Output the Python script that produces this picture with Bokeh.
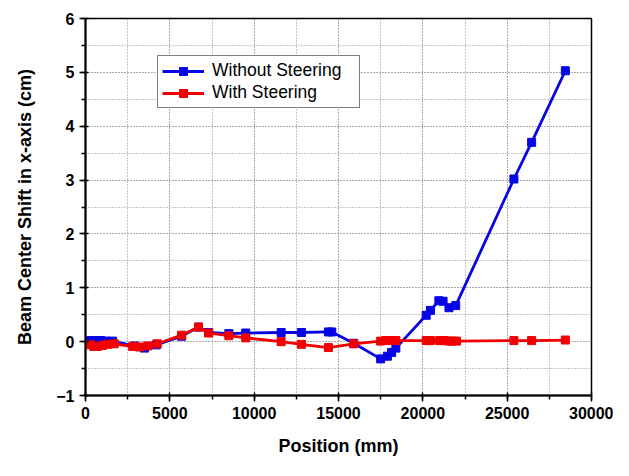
from bokeh.plotting import figure
from bokeh.models import SingleIntervalTicker, Legend, LegendItem, ColumnDataSource
from bokeh.embed import file_html
from bokeh.resources import INLINE

# ---- data ----
pos_without = [300, 600, 900, 1200, 1600, 2900, 3500, 4200, 5700, 6700, 7300, 8500, 9500,
               11600, 12800, 14400, 14600, 15900, 17500, 17900, 18150, 18400, 20200, 20450,
               20950, 21200, 21550, 21950, 25400, 26450, 28450]
shift_without = [0.02, 0.02, 0.02, 0.01, 0.01, -0.08, -0.12, -0.06, 0.10, 0.27, 0.17, 0.15, 0.16,
                 0.17, 0.17, 0.18, 0.18, -0.03, -0.32, -0.27, -0.20, -0.12, 0.49, 0.58,
                 0.76, 0.75, 0.63, 0.67, 3.02, 3.70, 5.03]

pos_with = [300, 500, 700, 1000, 1300, 1700, 2800, 3200, 3700, 4250, 5700, 6700, 7300, 8500,
            9500, 11600, 12800, 14400, 15900, 17500, 17800, 18100, 18400, 20200, 20450, 21000,
            21250, 21550, 21750, 22000, 25400, 26450, 28450]
shift_with = [-0.06, -0.09, -0.09, -0.07, -0.05, -0.04, -0.09, -0.10, -0.08, -0.04, 0.12, 0.27,
              0.16, 0.11, 0.07, 0.00, -0.05, -0.11, -0.04, 0.01, 0.02, 0.02, 0.02, 0.02, 0.02,
              0.02, 0.02, 0.01, 0.01, 0.01, 0.02, 0.02, 0.03]

series_names = ["Without Steering", "With Steering"]
series_colors = ["#0505E6", "#F00000"]

FONT = "Liberation Sans"

p = figure(width=613, height=460, x_range=(0, 30000), y_range=(-1, 6),
           output_backend="svg", toolbar_location=None,
           min_border_left=85, min_border_right=22, min_border_top=18, min_border_bottom=65)

p.outline_line_color = "black"
p.outline_line_width = 1.5
p.background_fill_color = "white"
p.border_fill_color = "white"

p.xaxis.ticker = SingleIntervalTicker(interval=5000, num_minor_ticks=2)
p.yaxis.ticker = SingleIntervalTicker(interval=1, num_minor_ticks=2)

for ax in (p.xaxis, p.yaxis):
    ax.axis_line_width = 2
    ax.axis_line_color = "black"
    ax.major_tick_line_width = 1.5
    ax.minor_tick_line_width = 1.5
    ax.major_tick_in = 3
    ax.major_tick_out = 6
    ax.minor_tick_in = 0
    ax.minor_tick_out = 4
    ax.major_label_text_font = FONT
    ax.major_label_text_font_style = "bold"
    ax.major_label_text_font_size = "16px"
    ax.major_label_text_color = "black"
    ax.axis_label_text_font = FONT
    ax.axis_label_text_font_style = "bold"
    ax.axis_label_text_font_size = "18px"
    ax.axis_label_text_color = "black"
    ax.major_label_standoff = 5

p.xaxis.axis_label = "Position (mm)"
p.yaxis.axis_label = "Beam Center Shift in x-axis (cm)"
p.xaxis.axis_label_standoff = 14
p.yaxis.axis_label_standoff = 18

for g in (p.xgrid, p.ygrid):
    g.grid_line_color = "#8c8c8c"
    g.grid_line_dash = "1 2"
    g.grid_line_width = 1
    g.minor_grid_line_color = "#8c8c8c"
    g.minor_grid_line_dash = "1 2"
    g.minor_grid_line_width = 1

items = []
for name, xs, ys, col in zip(series_names, [pos_without, pos_with], [shift_without, shift_with],
                             series_colors):
    src = ColumnDataSource(dict(x=xs, y=ys))
    r1 = p.line("x", "y", source=src, line_color=col, line_width=2.8)
    r2 = p.scatter("x", "y", source=src, marker="square", size=8, fill_color=col,
                   line_color=col)
    items.append(LegendItem(label=name, renderers=[r1, r2]))

legend = Legend(items=items, location=(72, 287))
legend.border_line_color = "black"
legend.border_line_width = 1
legend.padding = 4
legend.spacing = 1
legend.glyph_width = 42
legend.glyph_height = 20
legend.label_height = 20
legend.label_width = 143
legend.label_standoff = 8
legend.label_text_font = FONT
legend.label_text_font_size = "17.5px"
legend.label_text_color = "black"
legend.background_fill_color = "white"
legend.background_fill_alpha = 1
legend.margin = 0
p.add_layout(legend, "center")

open("out.html", "w").write(file_html(p, INLINE))
